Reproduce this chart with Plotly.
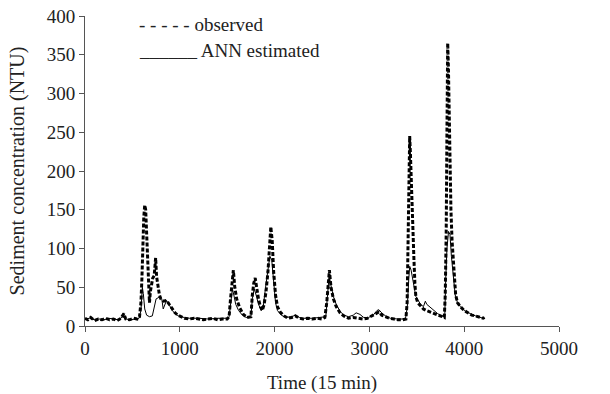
import plotly.graph_objects as go

# Time index (15-min steps) and observed sediment concentration (NTU)
t_obs = [0, 30, 60, 100, 140, 180, 220, 260, 300, 340, 380, 410, 430, 470, 510, 550, 575,
         590, 600, 610, 620, 630, 640, 650, 660, 670, 680, 690, 700, 715, 730, 745, 755, 770,
         785, 800, 830, 860, 890, 920, 950, 980, 1010, 1050, 1100, 1150, 1200, 1250, 1300,
         1350, 1400, 1450, 1500, 1520, 1535, 1550, 1565, 1580, 1600, 1630, 1670, 1710, 1750,
         1765, 1780, 1795, 1810, 1830, 1850, 1870, 1890, 1910, 1930, 1945, 1960, 1975, 1990,
         2010, 2030, 2060, 2100, 2140, 2180, 2220, 2260, 2300, 2350, 2400, 2450, 2500, 2530,
         2550, 2565, 2578, 2595, 2620, 2650, 2690, 2730, 2780, 2830, 2880, 2930, 2980, 3030,
         3070, 3100, 3130, 3170, 3210, 3260, 3300, 3350, 3385, 3398, 3405, 3412, 3418, 3425,
         3432, 3440, 3450, 3460, 3470, 3480, 3490, 3510, 3540, 3570, 3600, 3640, 3680, 3720,
         3760, 3790, 3800, 3810, 3818, 3826, 3834, 3842, 3850, 3860, 3872, 3885, 3898, 3910,
         3930, 3960, 4000, 4040, 4080, 4120, 4160, 4200, 4215]
observed = [10, 8, 11, 7, 9, 8, 10, 8, 9, 7, 10, 16, 9, 8, 10, 9, 12,
            30, 60, 110, 140, 156, 150, 120, 80, 45, 30, 45, 55, 62, 65, 88, 64, 50,
            40, 35, 32, 33, 28, 22, 17, 14, 12, 10, 9, 10, 9, 8, 9,
            10, 8, 9, 9, 12, 35, 55, 72, 50, 35, 24, 15, 11, 12,
            40, 55, 62, 50, 35, 25, 20, 28, 45, 70, 100, 128, 110, 70,
            40, 25, 18, 13, 10, 11, 13, 10, 9, 10, 9, 10, 9, 11,
            30, 55, 72, 50, 35, 25, 17, 13, 10, 11, 10, 9, 10, 13,
            16, 18, 14, 12, 10, 9, 8, 8, 9, 30, 80, 150, 200, 245,
            225, 190, 150, 110, 85, 55, 38, 30, 26, 22, 20, 18, 16, 14,
            12, 11, 40, 120, 250, 365, 330, 270, 200, 150, 110, 80, 55, 40,
            30, 25, 20, 17, 14, 13, 11, 10, 11]

# ANN estimated sediment concentration (NTU)
t_est = [0, 50, 100, 150, 200, 250, 300, 350, 400, 430, 480, 530, 570, 590, 605, 615, 630,
         650, 680, 710, 730, 750, 780, 810, 825, 845, 860, 890, 920, 960, 1000, 1050, 1100,
         1200, 1300, 1400, 1510, 1520, 1540, 1555, 1570, 1590, 1620, 1660, 1700, 1750, 1765,
         1785, 1805, 1830, 1860, 1880, 1905, 1925, 1950, 1970, 1990, 2010, 2030, 2070, 2120,
         2180, 2220, 2260, 2300, 2400, 2540, 2560, 2575, 2590, 2620, 2650, 2690, 2730, 2780,
         2830, 2860, 2900, 2940, 2990, 3040, 3080, 3100, 3130, 3170, 3220, 3300, 3380, 3400,
         3415, 3425, 3440, 3460, 3475, 3490, 3510, 3540, 3570, 3590, 3605, 3640, 3680, 3720,
         3760, 3795, 3805, 3818, 3835, 3850, 3865, 3875, 3890, 3905, 3930, 3960, 4000, 4040,
         4080, 4120, 4160, 4200, 4215]
estimated = [9, 10, 8, 9, 8, 10, 9, 8, 12, 9, 8, 9, 10, 20, 50, 42, 22,
             14, 12, 13, 25, 35, 37, 35, 22, 30, 33, 27, 20, 15, 12, 11, 10,
             10, 9, 10, 10, 12, 35, 48, 40, 28, 20, 14, 11, 11, 35,
             48, 40, 28, 20, 25, 50, 70, 90, 85, 55, 30, 20, 14, 11,
             12, 14, 11, 10, 10, 12, 40, 65, 55, 38, 28, 19, 14, 12,
             14, 17, 15, 11, 11, 14, 20, 21, 17, 13, 10, 9, 9, 25,
             60, 77, 72, 58, 45, 38, 34, 28, 25, 32, 28, 24, 20, 16,
             13, 12, 60, 100, 122, 118, 90, 75, 55, 40, 30, 25, 20, 17,
             15, 13, 11, 10, 10]

x_ticks = [0, 1000, 2000, 3000, 4000, 5000]
y_ticks = [0, 50, 100, 150, 200, 250, 300, 350, 400]

SERIF = "Liberation Serif"
AX = "#555555"
TXT = "#222222"
F = dict(family=SERIF, size=19, color=TXT)
FT = dict(family=SERIF, size=20, color=TXT)

fig = go.Figure()
fig.add_trace(go.Scatter(x=t_obs, y=observed, mode="lines", name="observed",
                         line=dict(color="black", width=3, dash="4px,2px")))
fig.add_trace(go.Scatter(x=t_est, y=estimated, mode="lines", name="ANN estimated",
                         line=dict(color="black", width=1)))

fig.update_layout(
    width=610, height=394,
    margin=dict(l=85, r=51, t=16, b=68),
    paper_bgcolor="white", plot_bgcolor="white",
    showlegend=False,
    font=F,
    xaxis=dict(range=[0, 5000], tickvals=x_ticks, ticks="outside", ticklen=5,
               tickcolor=AX, showline=True, linecolor=AX, linewidth=1,
               showgrid=False, zeroline=False, automargin=False, tickfont=F,
               title=dict(text="Time (15 min)", standoff=18, font=F)),
    yaxis=dict(range=[0, 400], tickvals=y_ticks, ticks="outside", ticklen=5,
               tickcolor=AX, showline=True, linecolor=AX, linewidth=1,
               showgrid=False, zeroline=False, automargin=False, tickfont=F,
               title=dict(text="Sediment concentration (NTU)", standoff=16, font=FT)),
)

fig.add_annotation(xref="paper", yref="paper", x=0.11, y=0.971, xanchor="left",
                   yanchor="middle", showarrow=False, text="- - - - - observed", font=F)
fig.add_annotation(xref="paper", yref="paper", x=0.11, y=0.890, xanchor="left",
                   yanchor="middle", showarrow=False, text="______ ANN estimated", font=F)

# remove the default 8px page margin so the figure fills the window exactly
fig.write_html("out.html", config={"displayModeBar": False},
               post_script="document.body.style.margin='0px';")
